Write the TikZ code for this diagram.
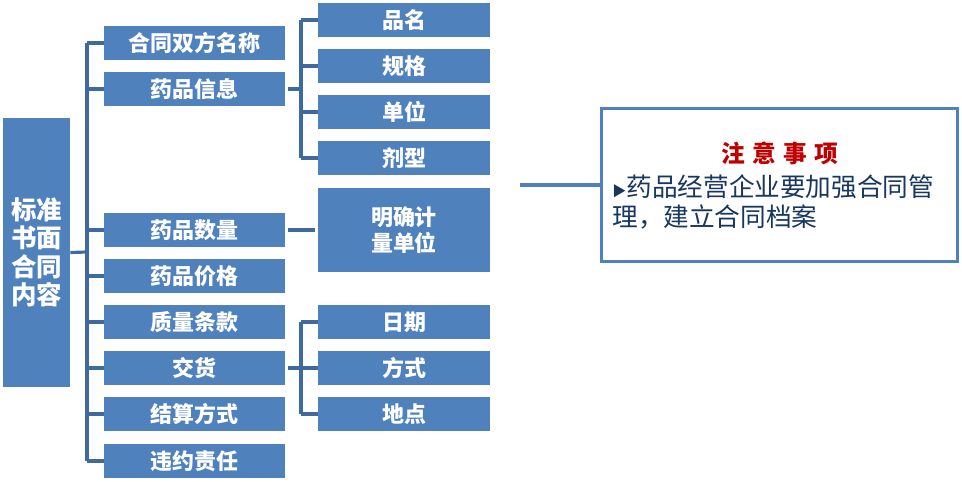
\documentclass[tikz,border=0pt]{standalone}
\usepackage{fontspec}
\newfontfamily\cjk{Noto Sans CJK SC}
\usetikzlibrary{positioning}
\definecolor{boxblue}{HTML}{4F81BD}
\definecolor{linkblue}{HTML}{3E6A9E}
\definecolor{notered}{HTML}{C00000}
\definecolor{notetext}{HTML}{17375E}

\begin{document}
\begin{tikzpicture}[x=0.02cm, y=-0.02cm,
  item/.style={fill=boxblue, text=white, inner sep=0pt, minimum width=3.62cm,
    minimum height=0.68cm, font=\cjk\bfseries\fontsize{12.5}{15}\selectfont},
  subitem/.style={item, minimum width=3.44cm},
  link/.style={draw=linkblue, line width=1.8pt}]
\useasboundingbox (0,0) rectangle (962,482);
% root
\node[item, minimum width=1.34cm, minimum height=5.38cm, align=center,
  font=\cjk\bfseries\fontsize{14.5}{16.2}\selectfont] (root) at (36.5,252.5) {标准\\书面\\合同\\内容};
% second level
\node[item] (names) at (194.5,43) {合同双方名称};
\node[item] (info) at (194.5,89) {药品信息};
\node[item] (qty) at (194.5,230) {药品数量};
\node[item] (price) at (194.5,276) {药品价格};
\node[item] (quality) at (194.5,322) {质量条款};
\node[item] (deliv) at (194.5,368) {交货};
\node[item] (settle) at (194.5,414) {结算方式};
\node[item] (breach) at (194.5,461) {违约责任};
% third level
\node[subitem] (pname) at (404,20) {品名};
\node[subitem] (spec) at (404,66) {规格};
\node[subitem] (unit) at (404,112) {单位};
\node[subitem] (form) at (404,158) {剂型};
\node[subitem, minimum height=1.7cm, align=center] (measure) at (404,230) {明确计\\量单位};
\node[subitem] (date) at (404,322) {日期};
\node[subitem] (mode) at (404,368) {方式};
\node[subitem] (place) at (404,414) {地点};
% trunk
\coordinate (trunk) at (87,252);
\draw[link] (root.east) -- (trunk);
\draw[link] (trunk |- names.west) -- (trunk |- breach.west);
\foreach \n in {names,info,qty,price,quality,deliv,settle,breach}
  \draw[link] (trunk |- \n.west) -- (\n.west);
% drug info branch
\coordinate (infoj) at (301,89);
\draw[link, shorten <=0.06cm] (info.east) -- (infoj);
\draw[link] (infoj |- pname.west) -- (infoj |- form.west);
\foreach \n in {pname,spec,unit,form}
  \draw[link] (infoj |- \n.west) -- (\n.west);
\draw[link, shorten <=0.06cm, shorten >=0.06cm] (qty) -- (measure);
% delivery branch
\coordinate (delivj) at (301,368);
\draw[link, shorten <=0.06cm] (deliv.east) -- (delivj);
\draw[link] (delivj |- date.west) -- (delivj |- place.west);
\foreach \n in {date,mode,place}
  \draw[link] (delivj |- \n.west) -- (\n.west);
% note
\node[draw=boxblue, line width=1.7pt, fill=white, minimum width=7.12cm,
  minimum height=3.06cm] (note) at (779.5,185) {};
\coordinate (noteend) at (520,185);
\draw[draw=boxblue, line width=2pt] (noteend) -- (note.west);
\node[text=notered, font=\cjk\bfseries\fontsize{13.5}{15}\selectfont] (title) at (780,153)
  {注\hspace{0.3em}意\hspace{0.3em}事\hspace{0.3em}项};
\node[anchor=base west, align=left, inner sep=0pt, text=notetext,
  font=\cjk\fontsize{14.6}{17.6}\selectfont] (body) at (612,227)
  {{\fontsize{8}{8}\selectfont ▶}药品经营企业要加强合同管\\理，建立合同档案};
\end{tikzpicture}
\end{document}
